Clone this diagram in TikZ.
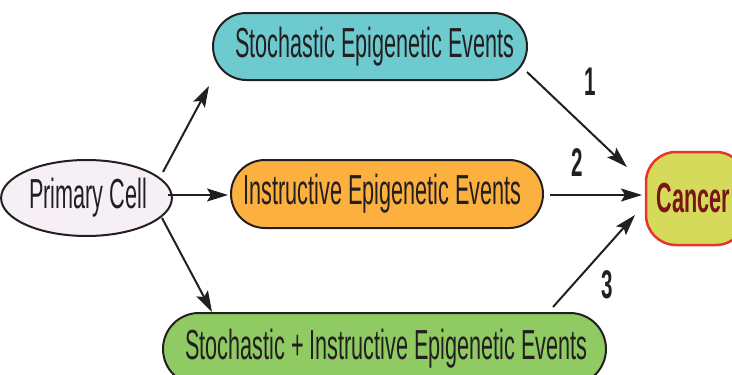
\documentclass[tikz,border=0pt]{standalone}
\usepackage{fontspec}
\newfontfamily\cond[FakeStretch=0.515]{Liberation Sans}
\usetikzlibrary{shapes.misc,shapes.geometric,arrows.meta}
\definecolor{ink}{HTML}{231F20}
\definecolor{tealfill}{HTML}{6DCBD0}
\definecolor{orangefill}{HTML}{FBB040}
\definecolor{greenfill}{HTML}{8FCB62}
\definecolor{cancerfill}{HTML}{D6DA5A}
\definecolor{cancerborder}{HTML}{E8342A}
\definecolor{cancertext}{HTML}{7A1517}
\definecolor{cellfill}{HTML}{F6F0F6}
\tikzset{
  pill/.style={rounded rectangle, draw=ink, line width=2pt, inner sep=0pt,
    font=\cond\fontsize{42}{44}\selectfont, text=ink},
  cellbox/.style={ellipse, draw=ink, line width=2pt, fill=cellfill, inner sep=0pt,
    minimum width=149pt, minimum height=76pt, font=\cond\fontsize{42}{44}\selectfont, text=ink},
  cancerbox/.style={rectangle, rounded corners=30pt, draw=cancerborder, line width=2.5pt,
    fill=cancerfill, minimum width=100pt, minimum height=93pt, inner sep=0pt},
  arr/.style={draw=ink, line width=2pt, -{Stealth[length=21pt,width=13pt,inset=4pt]}},
  numlabel/.style={font=\cond\bfseries\fontsize{40}{42}\selectfont, text=ink, inner sep=0pt}
}
\begin{document}
\begin{tikzpicture}[x=1pt,y=-1pt]
\useasboundingbox (0,0) rectangle (732,375);
\node[cellbox] (pc) at (86.5,198) {\hspace*{3pt}Primary Cell};
\node[pill, fill=tealfill, minimum width=314pt, minimum height=67pt] (stoch) at (370,46.5) {\hspace*{10pt}Stochastic Epigenetic Events};
\node[pill, fill=orangefill, minimum width=312pt, minimum height=68pt] (instr) at (387,194) {Instructive Epigenetic Events\hspace*{9pt}};
\node[pill, fill=greenfill, minimum width=443pt, minimum height=72pt] (both) at (384.5,349) {\hspace*{4pt}Stochastic + Instructive Epigenetic Events};
\node[cancerbox] (cancer) at (696,198.5) {};
\node[font=\cond\bfseries\fontsize{42}{44}\selectfont, text=cancertext, inner sep=0pt] (ctext) at (693.5,198) {Cancer};
% arrow end points, placed relative to the nodes
\path (pc) ++(76.5,-26) coordinate (a1s);
\path (stoch) ++(-161,39.5) coordinate (a1e);
\path (pc) ++(81.5,-3) coordinate (a2s);
\path (instr) ++(-159,1) coordinate (a2e);
\path (pc) ++(75.5,20) coordinate (a3s);
\path (both) ++(-172.5,-37) coordinate (a3e);
\path (stoch) ++(157,25.5) coordinate (b1s);
\path (cancer) ++(-69,-31.5) coordinate (b1e);
\path (instr) ++(163,1) coordinate (b2s);
\path (cancer) ++(-54,-3.5) coordinate (b2e);
\path (both) ++(168.5,-42) coordinate (b3s);
\path (cancer) ++(-61,16.5) coordinate (b3e);
\draw[arr] (a1s) -- (a1e);
\draw[arr] (a2s) -- (a2e);
\draw[arr] (a3s) -- (a3e);
\draw[arr] (b1s) -- (b1e);
\draw[arr] (b2s) -- (b2e);
\draw[arr] (b3s) -- (b3e);
\node[numlabel] (n1) at (590,82) {1};
\node[numlabel] (n2) at (577,163) {2};
\node[numlabel] (n3) at (607,285) {3};
\end{tikzpicture}
\end{document}
